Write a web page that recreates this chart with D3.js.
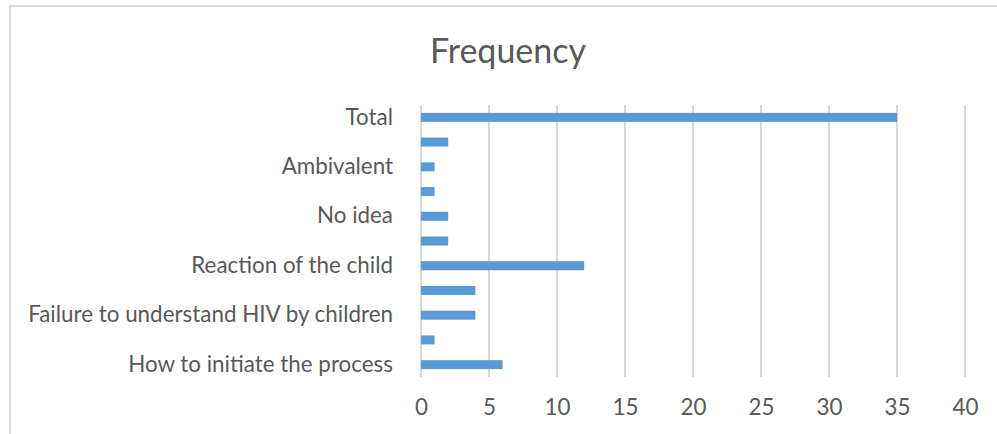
<!DOCTYPE html>
<html>
<head>
<meta charset="utf-8">
<script src="https://cdn.jsdelivr.net/npm/d3@7"></script>
<style>
  html, body { margin: 0; padding: 0; background: #fff; }
  svg { display: block; font-family: Lato, "Open Sans", sans-serif; }
</style>
</head>
<body>
<svg id="chart" width="997" height="434"></svg>
<script>
// Reasons listed top to bottom; every second category carries no visible label.
const categories = [
  "Total",
  "",
  "Ambivalent",
  "",
  "No idea",
  "",
  "Reaction of the child",
  "",
  "Failure to understand HIV by children",
  "",
  "How to initiate the process"
];
const frequency = [35, 2, 1, 1, 2, 2, 12, 4, 4, 1, 6];
const xTicks = [0, 5, 10, 15, 20, 25, 30, 35, 40];
const chartTitle = "Frequency";

const svg = d3.select("#chart");
const W = 997, H = 434;
const plot = { left: 421, right: 965, top: 105, bottom: 377 };
const textColor = "#595959";
const gridColor = "#d9d9d9";
const barColor = "#5b9bd5";
const labelSize = 22.4;

// Outer chart frame
svg.append("rect")
  .attr("x", 10).attr("y", 6)
  .attr("width", W + 20).attr("height", H + 20)
  .attr("fill", "#fff")
  .attr("stroke", gridColor)
  .attr("stroke-width", 2);

// Title
svg.append("text")
  .attr("x", 508).attr("y", 63)
  .attr("text-anchor", "middle")
  .attr("fill", textColor)
  .attr("font-size", 34)
  .text(chartTitle);

const x = d3.scaleLinear()
  .domain([0, 40])
  .range([plot.left, plot.right]);

const y = d3.scaleBand()
  .domain(d3.range(categories.length))
  .range([plot.top, plot.bottom])
  .paddingInner(0.636)
  .paddingOuter(0.318);

// Vertical gridlines
svg.append("g")
  .selectAll("line")
  .data(xTicks)
  .join("line")
  .attr("x1", d => x(d)).attr("x2", d => x(d))
  .attr("y1", plot.top).attr("y2", plot.bottom)
  .attr("stroke", gridColor)
  .attr("stroke-width", 2);

// Value axis labels
const xAxis = d3.axisBottom(x).tickValues(xTicks).tickSize(0).tickPadding(0);
const gx = svg.append("g")
  .attr("transform", `translate(0,${plot.bottom + 22})`)
  .call(xAxis);
gx.select(".domain").remove();
gx.selectAll("text")
  .attr("fill", textColor)
  .attr("font-size", labelSize)
  .attr("font-family", "Lato, 'Open Sans', sans-serif");

// Category axis labels
const yAxis = d3.axisLeft(y).tickFormat(i => categories[i]).tickSize(0).tickPadding(0);
const gy = svg.append("g")
  .attr("transform", `translate(${plot.left - 28},0)`)
  .call(yAxis);
gy.select(".domain").remove();
gy.selectAll("text")
  .attr("fill", textColor)
  .attr("font-size", labelSize)
  .attr("font-family", "Lato, 'Open Sans', sans-serif");

// Bars
svg.append("g")
  .selectAll("rect")
  .data(frequency)
  .join("rect")
  .attr("x", x(0))
  .attr("y", (d, i) => y(i))
  .attr("width", d => x(d) - x(0))
  .attr("height", y.bandwidth())
  .attr("fill", barColor);
</script>
</body>
</html>
